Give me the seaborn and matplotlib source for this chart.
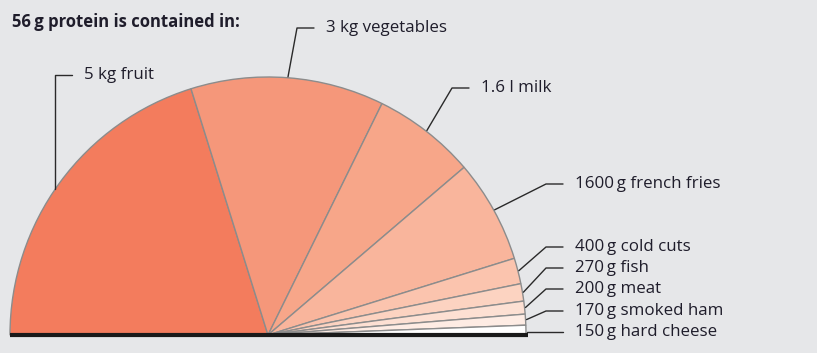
import numpy as np
import seaborn as sns
import matplotlib.pyplot as plt

# Step 1: Data - amounts of food that each contain 56 g protein (in grams / ml)
foods = ['5 kg fruit', '3 kg vegetables', '1.6 l milk', '1600\u2009g french fries',
         '400\u2009g cold cuts', '270\u2009g fish', '200\u2009g meat',
         '170\u2009g smoked ham', '150\u2009g hard cheese']
amounts = [5000, 3000, 1600, 1600, 400, 270, 200, 170, 150]
slice_colors = ['#f37c5d', '#f5977a', '#f7a689', '#f9b59c', '#fbc4ae',
                '#fcd3c1', '#fde0d3', '#feece4', '#ffffff']

# label anchor points (knee of the leader line), in pixel coordinates
knees = [(55, 278), (297, 325), (452, 265), (546, 169), (546, 106),
         (546, 85), (546, 64), (546, 42), (546, 21)]

# Step 2: Style
sns.set_theme(style='white')
plt.rcParams['font.family'] = ['Open Sans', 'DejaVu Sans']
bg = '#e6e7e9'
text_color = '#1f1d2b'

fig = plt.figure(figsize=(8.17, 3.53), dpi=100, facecolor=bg)
ax = fig.add_axes([0, 0, 1, 1])
ax.set_facecolor(bg)

# Step 3: Half pie - hidden lower half makes the chart a semicircle
center = (268, 18)
radius = 258
total = sum(amounts)
wedges, _ = ax.pie(amounts + [total], colors=slice_colors + ['none'],
                   startangle=180, counterclock=False, center=center, radius=radius,
                   wedgeprops=dict(edgecolor='#8c8c8c', linewidth=1))
wedges[-1].set_edgecolor('none')

ax.set_xlim(0, 817)
ax.set_ylim(0, 353)
ax.set_aspect('equal')
ax.axis('off')

# baseline
ax.plot([center[0] - radius, center[0] + radius + 2], [center[1], center[1]],
        color='#1a1a1a', lw=3, solid_capstyle='butt', zorder=5)

# Step 4: Leader lines and labels
for i, (w, label) in enumerate(zip(wedges[:-1], foods)):
    mid = np.deg2rad((w.theta1 + w.theta2) / 2)
    sx = center[0] + (radius + 1) * np.cos(mid)
    sy = center[1] + (radius + 1) * np.sin(mid)
    kx, ky = knees[i]
    if i == 0:
        # vertical leader: meet the arc straight below the knee
        sx = kx
        sy = center[1] + np.sqrt(radius ** 2 - (kx - center[0]) ** 2)
    if i == len(foods) - 1:
        sy = ky
    ax.plot([sx, kx, kx + 17], [sy, ky, ky], color='#2a2a2a', lw=1, zorder=4)
    ax.text(kx + 29, ky, label, fontsize=12.2, color=text_color,
            va='center', ha='left')

# Step 5: Title
ax.text(12, 331, '56\u2009g protein is contained in:', fontsize=12,
        fontweight='bold', color=text_color, va='center', ha='left')

fig.savefig('out.png', dpi=100, facecolor=bg)
